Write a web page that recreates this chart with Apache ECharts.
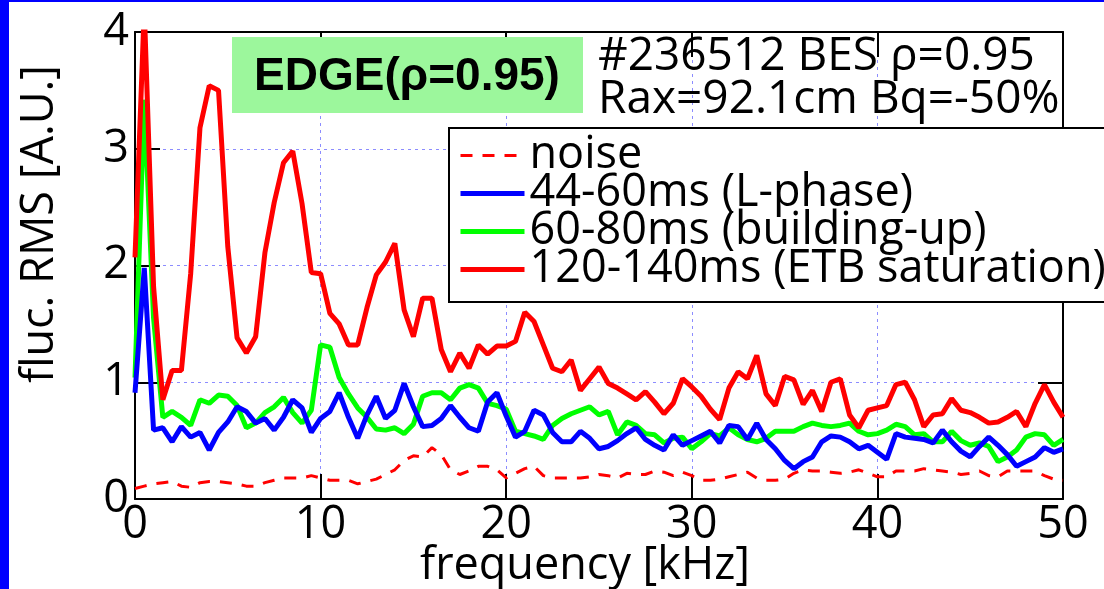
<!DOCTYPE html>
<html>
<head>
<meta charset="utf-8">
<script src="https://cdn.jsdelivr.net/npm/echarts@6/dist/echarts.min.js"></script>
<style>
  html, body { margin: 0; padding: 0; background: #fff; }
  #chart { width: 1104px; height: 589px; }
</style>
</head>
<body>
<div id="chart"></div>
<script>
// frequency axis, kHz (0.5 kHz bins)
var freq = [0, 0.5, 1, 1.5, 2, 2.5, 3, 3.5, 4, 4.5, 5, 5.5, 6, 6.5, 7, 7.5, 8, 8.5, 9, 9.5,
  10, 10.5, 11, 11.5, 12, 12.5, 13, 13.5, 14, 14.5, 15, 15.5, 16, 16.5, 17, 17.5, 18, 18.5, 19, 19.5,
  20, 20.5, 21, 21.5, 22, 22.5, 23, 23.5, 24, 24.5, 25, 25.5, 26, 26.5, 27, 27.5, 28, 28.5, 29, 29.5,
  30, 30.5, 31, 31.5, 32, 32.5, 33, 33.5, 34, 34.5, 35, 35.5, 36, 36.5, 37, 37.5, 38, 38.5, 39, 39.5,
  40, 40.5, 41, 41.5, 42, 42.5, 43, 43.5, 44, 44.5, 45, 45.5, 46, 46.5, 47, 47.5, 48, 48.5, 49, 49.5, 50];

var noise = [0.09, 0.11, 0.13, 0.14, 0.15, 0.11, 0.10, 0.14, 0.15, 0.15, 0.14, 0.13, 0.11, 0.11, 0.14, 0.16, 0.18, 0.18, 0.18, 0.20,
  0.18, 0.16, 0.16, 0.16, 0.13, 0.15, 0.17, 0.21, 0.25, 0.33, 0.37, 0.36, 0.44, 0.38, 0.25, 0.21, 0.24, 0.28, 0.28, 0.25,
  0.18, 0.22, 0.26, 0.28, 0.20, 0.18, 0.18, 0.18, 0.18, 0.19, 0.21, 0.20, 0.18, 0.22, 0.21, 0.21, 0.24, 0.23, 0.20, 0.23,
  0.20, 0.16, 0.16, 0.17, 0.19, 0.21, 0.23, 0.18, 0.16, 0.16, 0.17, 0.22, 0.25, 0.24, 0.24, 0.23, 0.22, 0.23, 0.25, 0.22,
  0.19, 0.19, 0.24, 0.24, 0.24, 0.26, 0.25, 0.24, 0.23, 0.21, 0.22, 0.24, 0.20, 0.19, 0.24, 0.24, 0.24, 0.24, 0.20, 0.17, 0.16];

var lphase = [0.91, 1.98, 0.59, 0.61, 0.49, 0.62, 0.53, 0.57, 0.42, 0.57, 0.66, 0.79, 0.75, 0.65, 0.69, 0.59, 0.70, 0.85, 0.78, 0.57,
  0.69, 0.75, 0.91, 0.70, 0.52, 0.72, 0.88, 0.69, 0.76, 0.99, 0.79, 0.62, 0.63, 0.69, 0.80, 0.70, 0.61, 0.58, 0.83, 0.91,
  0.71, 0.53, 0.58, 0.76, 0.72, 0.57, 0.49, 0.49, 0.58, 0.52, 0.43, 0.45, 0.50, 0.56, 0.61, 0.51, 0.46, 0.42, 0.55, 0.46,
  0.50, 0.54, 0.58, 0.48, 0.63, 0.62, 0.51, 0.65, 0.51, 0.43, 0.33, 0.26, 0.32, 0.36, 0.49, 0.54, 0.53, 0.49, 0.43, 0.46,
  0.40, 0.34, 0.56, 0.53, 0.52, 0.51, 0.48, 0.59, 0.49, 0.41, 0.36, 0.45, 0.53, 0.46, 0.38, 0.28, 0.32, 0.36, 0.44, 0.40, 0.43];

var buildup = [1.04, 3.42, 1.55, 0.70, 0.75, 0.70, 0.63, 0.85, 0.82, 0.89, 0.88, 0.80, 0.61, 0.65, 0.74, 0.79, 0.87, 0.74, 0.65, 0.76,
  1.32, 1.30, 1.04, 0.90, 0.78, 0.70, 0.60, 0.59, 0.61, 0.56, 0.64, 0.88, 0.91, 0.91, 0.85, 0.95, 0.98, 0.95, 0.82, 0.80,
  0.77, 0.58, 0.56, 0.54, 0.51, 0.63, 0.69, 0.73, 0.76, 0.79, 0.72, 0.75, 0.55, 0.66, 0.63, 0.56, 0.55, 0.48, 0.52, 0.53,
  0.43, 0.49, 0.56, 0.54, 0.61, 0.55, 0.51, 0.49, 0.52, 0.58, 0.58, 0.58, 0.62, 0.65, 0.63, 0.62, 0.63, 0.65, 0.58, 0.55,
  0.56, 0.59, 0.64, 0.62, 0.55, 0.56, 0.49, 0.49, 0.58, 0.50, 0.46, 0.48, 0.45, 0.32, 0.36, 0.42, 0.53, 0.56, 0.55, 0.46, 0.51];

var saturation = [2.07, 4.2, 1.82, 0.85, 1.10, 1.10, 1.93, 3.18, 3.54, 3.50, 2.16, 1.38, 1.25, 1.39, 2.11, 2.54, 2.88, 2.98, 2.53, 1.94,
  1.93, 1.59, 1.50, 1.32, 1.32, 1.64, 1.92, 2.03, 2.19, 1.62, 1.39, 1.72, 1.72, 1.28, 1.09, 1.25, 1.12, 1.32, 1.24, 1.31,
  1.31, 1.35, 1.60, 1.52, 1.32, 1.12, 1.09, 1.19, 0.93, 1.03, 1.13, 0.99, 0.95, 0.90, 0.85, 0.92, 0.83, 0.73, 0.82, 1.03,
  0.96, 0.88, 0.77, 0.68, 0.95, 1.09, 1.03, 1.23, 0.90, 0.80, 1.05, 1.02, 0.81, 0.93, 0.75, 1.00, 1.03, 0.72, 0.61, 0.76,
  0.78, 0.80, 0.98, 1.00, 0.85, 0.62, 0.72, 0.73, 0.86, 0.76, 0.74, 0.70, 0.65, 0.66, 0.70, 0.75, 0.62, 0.82, 0.98, 0.83, 0.70];

var names = ['noise', '44-60ms (L-phase)', '60-80ms (building-up)', '120-140ms (ETB saturation)'];

function pairs(vals) {
  return freq.map(function (f, i) { return [f, vals[i]]; });
}

var font = "'Open Sans', sans-serif";

function frameAxis(pos, showLabel) {
  return {
    position: pos,
    axisLine: { show: true, onZero: false, lineStyle: { color: '#000', width: 2 } },
    axisTick: { show: true, inside: true, length: 25, lineStyle: { color: '#000', width: 2 } },
    axisLabel: showLabel
      ? { show: true, fontFamily: font, fontSize: 45, color: '#000', margin: pos === 'left' ? 6 : 4 }
      : { show: false },
    splitLine: showLabel
      ? { show: true, lineStyle: { color: '#8c8cff', width: 1, type: [3, 4] } }
      : { show: false }
  };
}

var xBottom = Object.assign({ type: 'value', min: 0, max: 50, interval: 10 }, frameAxis('bottom', true));
var xTop = Object.assign({ type: 'value', min: 0, max: 50, interval: 10 }, frameAxis('top', false));
var yLeft = Object.assign({ type: 'value', min: 0, max: 4, interval: 1 }, frameAxis('left', true));
var yRight = Object.assign({ type: 'value', min: 0, max: 4, interval: 1 }, frameAxis('right', false));

var chart = echarts.init(document.getElementById('chart'));
chart.setOption({
  backgroundColor: '#fff',
  animation: false,
  grid: { left: 135, right: 41, top: 32, bottom: 90 },
  legend: {
    orient: 'vertical',
    left: 449,
    top: 128,
    backgroundColor: '#fff',
    borderColor: '#000',
    borderWidth: 2,
    borderRadius: 0,
    padding: [5, 12, 10, 9],
    itemGap: -7,
    itemWidth: 64,
    itemHeight: 14,
    itemStyle: { opacity: 0 },
    lineStyle: { width: 5 },
    textStyle: { fontFamily: font, fontSize: 45, color: '#000' },
    data: [
      { name: names[0], lineStyle: { width: 3 } },
      names[1], names[2], names[3]
    ]
  },
  xAxis: [xBottom, xTop],
  yAxis: [yLeft, yRight],
  series: [{
    name: names[0], type: 'line', symbol: 'none', data: pairs(noise),
    lineStyle: { color: '#ff0000', width: 3, type: [12, 10] }, itemStyle: { color: '#ff0000' }
  }, {
    name: names[2], type: 'line', symbol: 'none', data: pairs(buildup),
    lineStyle: { color: '#00ff00', width: 5 }, itemStyle: { color: '#00ff00' }
  }, {
    name: names[1], type: 'line', symbol: 'none', data: pairs(lphase),
    lineStyle: { color: '#0000ff', width: 5 }, itemStyle: { color: '#0000ff' }
  }, {
    name: names[3], type: 'line', symbol: 'none', data: pairs(saturation),
    lineStyle: { color: '#ff0000', width: 5 }, itemStyle: { color: '#ff0000' }
  }],
  graphic: [
    // blue slide border
    { type: 'rect', left: 0, top: 0, shape: { width: 9, height: 589 }, style: { fill: '#0000ff' }, z: 100 },
    { type: 'rect', left: 0, top: 0, shape: { width: 1104, height: 2 }, style: { fill: '#0000ff' }, z: 100 },
    // EDGE label
    { type: 'rect', left: 232, top: 37, shape: { width: 351, height: 76 }, style: { fill: '#9cf79c' }, z: 50 },
    { type: 'text', z: 51, x: 407, y: 77, style: {
        text: 'EDGE(ρ=0.95)', textAlign: 'center', textVerticalAlign: 'middle',
        font: "bold 46px 'Liberation Sans', Arial, sans-serif", fill: '#000' } },
    // shot annotation
    { type: 'text', z: 51, x: 598, y: 57, style: { text: '#236512 BES ρ=0.95', textVerticalAlign: 'middle',
        font: "46px 'Open Sans', sans-serif", fill: '#000' } },
    { type: 'text', z: 51, x: 598, y: 100, style: { text: 'Rax=92.1cm Bq=-50%', textVerticalAlign: 'middle',
        font: "46px 'Open Sans', sans-serif", fill: '#000' } },
    // axis titles
    { type: 'text', z: 51, x: 585, y: 566, style: { text: 'frequency [kHz]', textAlign: 'center', textVerticalAlign: 'middle',
        font: "45px 'Open Sans', sans-serif", fill: '#000' } },
    { type: 'text', z: 51, x: 40, y: 224, rotation: Math.PI / 2, style: { text: 'fluc. RMS [A.U.]', textAlign: 'center', textVerticalAlign: 'middle',
        font: "45px 'Open Sans', sans-serif", fill: '#000' } }
  ]
});
</script>
</body>
</html>
